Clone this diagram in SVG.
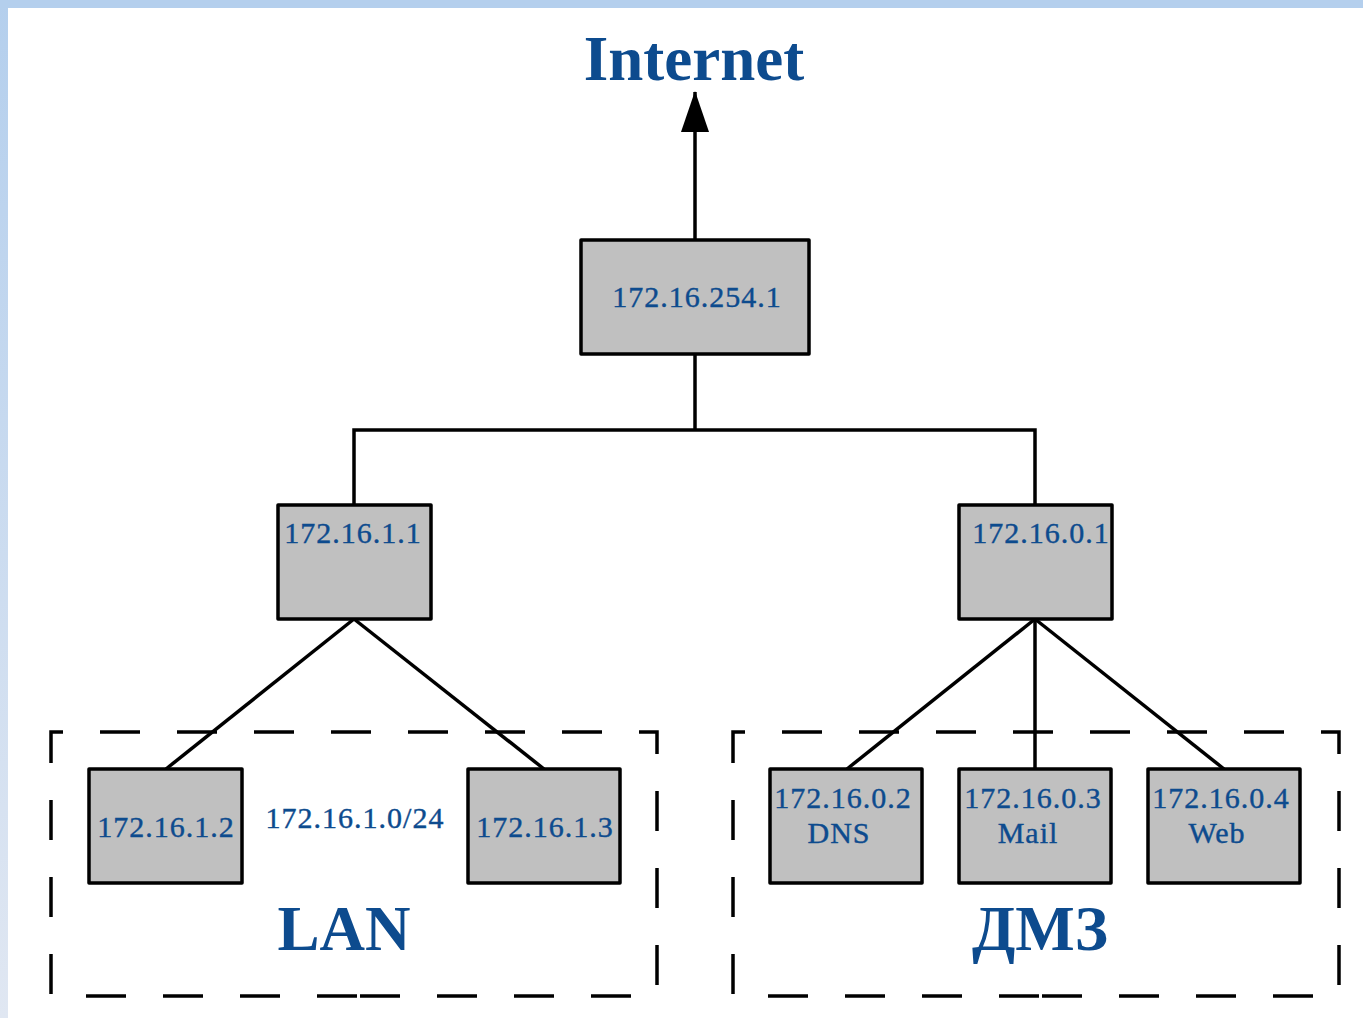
<svg xmlns="http://www.w3.org/2000/svg" width="1363" height="1018" viewBox="0 0 1363 1018">
<defs>
<linearGradient id="lg" x1="0" y1="0" x2="0" y2="1"><stop offset="0" stop-color="#b4cfed"/><stop offset="1" stop-color="#e0e7f2"/></linearGradient>
<marker id="ah" markerUnits="userSpaceOnUse" markerWidth="42" markerHeight="30" refX="40" refY="15" orient="auto" viewBox="0 0 42 30"><path d="M0,1 L41,15 L0,29 Z" fill="#000"/></marker>
<style>
.box{fill:#c0c0c0;stroke:#000;stroke-width:3.5;stroke-linejoin:round}
.lbl{font-family:"Liberation Serif","Times New Roman",serif;font-size:30px;letter-spacing:1px;fill:#0d4b8e;stroke:#0d4b8e;stroke-width:0.4;text-anchor:middle}
.big{font-family:"Liberation Serif","Times New Roman",serif;font-weight:bold;fill:#0d4b8e;text-anchor:middle}
.zone{fill:none;stroke:#000;stroke-width:3.5;stroke-dasharray:40 37}
.zb{stroke-dashoffset:37}
.ln{fill:none;stroke:#000;stroke-width:3.5}
</style>
</defs>
<rect x="0" y="0" width="1363" height="1018" fill="#fff"/>
<rect x="0" y="0" width="8" height="1018" fill="url(#lg)"/>
<rect x="0" y="0" width="1363" height="8" fill="#b4cfed"/>

<g id="zone-lan">
<path class="zone" d="M51,760 V732 H657 V996 H359"/>
<path class="zone zb" d="M51,760 V996 H359"/>
<text class="big" x="344" y="950" font-size="63">LAN</text>
<text class="lbl" x="355" y="828">172.16.1.0/24</text>
</g>
<g id="zone-dmz">
<path class="zone" d="M733,760 V732 H1339 V996 H1041"/>
<path class="zone zb" d="M733,760 V996 H1041"/>
<text class="big" x="1040" y="950" font-size="63">ДМЗ</text>
</g>

<g id="connectors">
<line class="ln" x1="695" y1="240" x2="695" y2="92" marker-end="url(#ah)"/>
<polyline class="ln" points="695,354 695,430"/>
<polyline class="ln" points="354,505 354,430 1035,430 1035,505"/>
<line class="ln" x1="354" y1="619" x2="166" y2="769"/>
<line class="ln" x1="354" y1="619" x2="544" y2="769"/>
<line class="ln" x1="1035" y1="619" x2="847" y2="769"/>
<line class="ln" x1="1035" y1="619" x2="1035" y2="769"/>
<line class="ln" x1="1035" y1="619" x2="1224" y2="769"/>
</g>

<g id="internet"><text class="big" x="694" y="80" font-size="63">Internet</text></g>
<g id="gw"><rect class="box" x="581" y="240" width="228" height="114"/><text class="lbl" x="697" y="307">172.16.254.1</text></g>
<g id="r-lan"><rect class="box" x="278" y="505" width="153" height="114"/><text class="lbl" x="353" y="543">172.16.1.1</text></g>
<g id="r-dmz"><rect class="box" x="959" y="505" width="153" height="114"/><text class="lbl" x="1041" y="543">172.16.0.1</text></g>
<g id="h2"><rect class="box" x="89" y="769" width="153" height="114"/><text class="lbl" x="166" y="837">172.16.1.2</text></g>
<g id="h3"><rect class="box" x="468" y="769" width="152" height="114"/><text class="lbl" x="545" y="837">172.16.1.3</text></g>
<g id="dns"><rect class="box" x="770" y="769" width="152" height="114"/><text class="lbl" x="843" y="808">172.16.0.2</text><text class="lbl" x="839" y="843">DNS</text></g>
<g id="mail"><rect class="box" x="959" y="769" width="152" height="114"/><text class="lbl" x="1033" y="808">172.16.0.3</text><text class="lbl" x="1028" y="843">Mail</text></g>
<g id="web"><rect class="box" x="1148" y="769" width="152" height="114"/><text class="lbl" x="1221" y="808">172.16.0.4</text><text class="lbl" x="1217" y="843">Web</text></g>
</svg>
